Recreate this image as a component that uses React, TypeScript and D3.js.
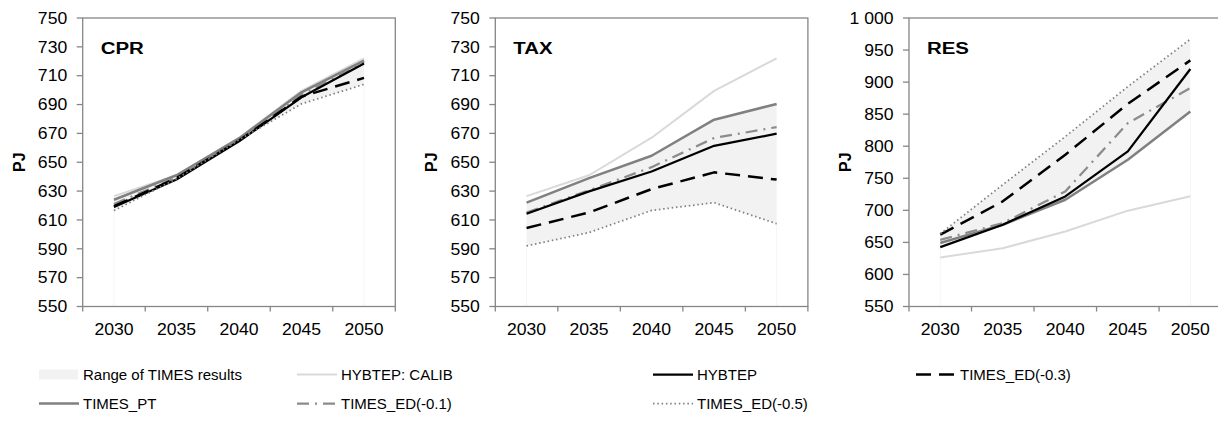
import * as d3 from "d3";
import { useEffect } from "react";

// categories
const YEARS = ["2030", "2035", "2040", "2045", "2050"];
const PANELS = ["CPR", "TAX", "RES"];

// HYBTEP: CALIB is the same in every panel
const CALIB = [626.5, 641, 667, 699.5, 722];

const CPR_HYBTEP = [619, 638, 664.5, 695, 718.5];
const CPR_PT = [624, 641, 666.5, 698.5, 720.5];
const CPR_ED01 = [621, 639.5, 665.5, 697, 719.5];
const CPR_ED03 = [619.5, 639, 665, 695.5, 708.5];
const CPR_ED05 = [616.5, 638.5, 665.5, 690.5, 704];

const TAX_HYBTEP = [614.3, 629.8, 643.6, 661.4, 669.8];
const TAX_PT = [622, 639, 654.5, 679.5, 690.4];
const TAX_ED01 = [615.2, 630.5, 646.6, 666.8, 674.4];
const TAX_ED03 = [604.4, 615.2, 631.4, 643, 638];
const TAX_ED05 = [592, 601.3, 616.6, 622, 607.4];

const RES_HYBTEP = [642.7, 677.5, 721.7, 792, 920.4];
const RES_PT = [649, 677.5, 716.5, 779, 854.3];
const RES_ED01 = [654, 680, 729.5, 836, 890.7];
const RES_ED03 = [662, 714, 786.7, 866, 933.9];
const RES_ED05 = [663.5, 740, 815, 893, 967];

// tick labels
const TICKS_750 = [550, 570, 590, 610, 630, 650, 670, 690, 710, 730, 750];
const TICKS_1000 = [550, 600, 650, 700, 750, 800, 850, 900, 950, 1000];

const SERIES_NAMES = [
  "HYBTEP: CALIB",
  "TIMES_PT",
  "TIMES_ED(-0.1)",
  "HYBTEP",
  "TIMES_ED(-0.3)",
  "TIMES_ED(-0.5)",
];
const TIMES_NAMES = ["TIMES_PT", "TIMES_ED(-0.1)", "TIMES_ED(-0.3)", "TIMES_ED(-0.5)"];

const PANEL_DATA: Record<string, number[]>[] = [
  {
    "HYBTEP: CALIB": CALIB,
    TIMES_PT: CPR_PT,
    "TIMES_ED(-0.1)": CPR_ED01,
    HYBTEP: CPR_HYBTEP,
    "TIMES_ED(-0.3)": CPR_ED03,
    "TIMES_ED(-0.5)": CPR_ED05,
  },
  {
    "HYBTEP: CALIB": CALIB,
    TIMES_PT: TAX_PT,
    "TIMES_ED(-0.1)": TAX_ED01,
    HYBTEP: TAX_HYBTEP,
    "TIMES_ED(-0.3)": TAX_ED03,
    "TIMES_ED(-0.5)": TAX_ED05,
  },
  {
    "HYBTEP: CALIB": CALIB,
    TIMES_PT: RES_PT,
    "TIMES_ED(-0.1)": RES_ED01,
    HYBTEP: RES_HYBTEP,
    "TIMES_ED(-0.3)": RES_ED03,
    "TIMES_ED(-0.5)": RES_ED05,
  },
];
const PANEL_TICKS = [TICKS_750, TICKS_750, TICKS_1000];

const STYLES: Record<string, { stroke: string; width: number; dash?: string }> = {
  "HYBTEP: CALIB": { stroke: "#d9d9d9", width: 2 },
  TIMES_PT: { stroke: "#808080", width: 2.5 },
  "TIMES_ED(-0.1)": { stroke: "#8c8c8c", width: 2.25, dash: "12,6,2,6" },
  HYBTEP: { stroke: "#000000", width: 2.25 },
  "TIMES_ED(-0.3)": { stroke: "#000000", width: 2.5, dash: "15,8" },
  "TIMES_ED(-0.5)": { stroke: "#7f7f7f", width: 1.75, dash: "1.5,2.8" },
};

const LEGEND_ROWS = [
  ["Range of TIMES results", "HYBTEP: CALIB", "HYBTEP", "TIMES_ED(-0.3)"],
  ["TIMES_PT", "TIMES_ED(-0.1)", "TIMES_ED(-0.5)"],
];

const WIDTH = 1218;
const HEIGHT = 423;
const PLOT_LEFTS = [82.7, 495.3, 909];
const PLOT_W = 312.6;
const TOP = 18;
const BOTTOM = 306.5;
const FONT = "'Liberation Sans', Arial, sans-serif";
const AXIS = "#868686";
const RANGE_FILL = "#f2f2f2";
const STRETCH = 1.1; // tick labels in the source are a little wide

const fmt = (v: number) => d3.format(",")(v).replace(",", " ");

const Panel = ({ index }: { index: number }) => {
  const left = PLOT_LEFTS[index];
  const data = PANEL_DATA[index];
  const ticks = PANEL_TICKS[index];
  const x = d3.scaleBand<string>().domain(YEARS).range([left, left + PLOT_W]).padding(0);
  const y = d3
    .scaleLinear()
    .domain([ticks[0], ticks[ticks.length - 1]])
    .range([BOTTOM, TOP]);
  const cx = (i: number) => x(YEARS[i])! + x.bandwidth() / 2;

  const range = YEARS.map((_, i) => {
    const vals = TIMES_NAMES.map((n) => data[n][i]);
    return { i, lo: d3.min(vals)!, hi: d3.max(vals)! };
  });
  const area = d3
    .area<{ i: number; lo: number; hi: number }>()
    .x((d) => cx(d.i))
    .y0((d) => y(d.lo))
    .y1((d) => y(d.hi));
  const line = d3
    .line<number>()
    .x((_, i) => cx(i))
    .y((d) => y(d));

  const edges = [...YEARS.map((yr) => x(yr)!), left + PLOT_W];

  return (
    <g>
      {/* faint edges of the stacked base area */}
      <line x1={cx(0)} x2={cx(0)} y1={y(range[0].lo)} y2={BOTTOM} stroke="#f5f5f5" />
      <line x1={cx(4)} x2={cx(4)} y1={y(range[4].lo)} y2={BOTTOM} stroke="#f5f5f5" />
      <path d={area(range)!} fill={RANGE_FILL} />
      {SERIES_NAMES.map((n) => (
        <path
          key={n}
          d={line(data[n])!}
          fill="none"
          stroke={STYLES[n].stroke}
          strokeWidth={STYLES[n].width}
          strokeDasharray={STYLES[n].dash}
          strokeLinejoin="round"
        />
      ))}
      <rect x={left} y={TOP} width={PLOT_W} height={BOTTOM - TOP} fill="none" stroke={AXIS} strokeWidth={1.3} />
      {ticks.map((t) => (
        <g key={t}>
          <line x1={left - 6} x2={left} y1={y(t)} y2={y(t)} stroke={AXIS} strokeWidth={1.3} />
          <text
            transform={`translate(${left - 15.5},${y(t)}) scale(${STRETCH},1)`}
            dy="0.36em"
            textAnchor="end"
            fontSize={16}
            fontFamily={FONT}
            fill="#000"
          >
            {fmt(t)}
          </text>
        </g>
      ))}
      {edges.map((e, i) => (
        <line key={i} x1={e} x2={e} y1={BOTTOM} y2={BOTTOM + 5} stroke={AXIS} strokeWidth={1.3} />
      ))}
      {YEARS.map((yr, i) => (
        <text
          key={yr}
          transform={`translate(${cx(i)},335) scale(${STRETCH},1)`}
          textAnchor="middle"
          fontSize={16}
          fontFamily={FONT}
          fill="#000"
        >
          {yr}
        </text>
      ))}
      <text
        transform={`translate(${left - 58},${(TOP + BOTTOM) / 2}) rotate(-90)`}
        textAnchor="middle"
        fontSize={16}
        fontWeight="bold"
        fontFamily={FONT}
      >
        PJ
      </text>
      <text
        transform={`translate(${left + 18},54) scale(1.2,1)`}
        fontSize={17}
        fontWeight="bold"
        fontFamily={FONT}
      >
        {PANELS[index]}
      </text>
    </g>
  );
};

const LEGEND_COLS = [39, 297, 653, 916];
const LEGEND_Y = [374.5, 403.5];

const Legend = () => (
  <g>
    {LEGEND_ROWS.map((row, r) =>
      row.map((name, c) => {
        const x0 = LEGEND_COLS[c];
        const yy = LEGEND_Y[r];
        const st = STYLES[name];
        return (
          <g key={name}>
            {st ? (
              <line
                x1={x0}
                x2={x0 + 40}
                y1={yy}
                y2={yy}
                stroke={st.stroke}
                strokeWidth={st.width}
                strokeDasharray={st.dash}
              />
            ) : (
              <rect x={x0} y={yy - 5} width={39} height={10} fill={RANGE_FILL} />
            )}
            <text x={x0 + 44} y={yy} dy="0.36em" fontSize={15} fontFamily={FONT} fill="#000">
              {name}
            </text>
          </g>
        );
      })
    )}
  </g>
);

export default function App() {
  useEffect(() => {
    document.body.style.margin = "0";
  }, []);
  return (
    <svg width={WIDTH} height={HEIGHT} style={{ display: "block", background: "#fff" }}>
      {PANELS.map((_, i) => (
        <Panel key={i} index={i} />
      ))}
      <Legend />
    </svg>
  );
}
